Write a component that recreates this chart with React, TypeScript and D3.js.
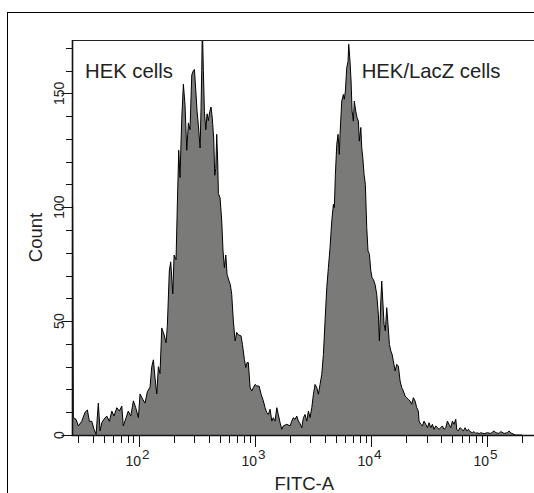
import { useEffect, useRef } from 'react';
import * as d3 from 'd3';

// FITC-A channel positions (log10 of intensity) and event counts
const fitcLog = [
  1.431, 1.437, 1.46, 1.48, 1.509, 1.538, 1.558, 1.575, 1.596, 1.615, 1.633, 1.652, 1.667, 1.682, 1.701,
  1.725, 1.747, 1.768, 1.787, 1.811, 1.833, 1.854, 1.867, 1.891, 1.91, 1.931, 1.954, 1.974, 1.997,
  2.011, 2.034, 2.054, 2.074, 2.097, 2.112, 2.126, 2.14, 2.155, 2.169, 2.183, 2.198, 2.218, 2.235, 2.246,
  2.263, 2.275, 2.293, 2.304, 2.321, 2.332, 2.344, 2.355, 2.37, 2.384, 2.398, 2.413, 2.427, 2.441,
  2.456, 2.47, 2.479, 2.491, 2.502, 2.513, 2.528, 2.536, 2.542, 2.547, 2.556, 2.565, 2.577, 2.588, 2.599,
  2.611, 2.622, 2.633, 2.645, 2.654, 2.663, 2.671, 2.68, 2.685, 2.7, 2.714, 2.725, 2.737, 2.749, 2.76,
  2.777, 2.788, 2.8, 2.814, 2.829, 2.843, 2.857, 2.88, 2.892, 2.909, 2.921, 2.932, 2.943, 2.958, 2.972,
  2.986, 3.001, 3.016, 3.035, 3.053, 3.072, 3.087, 3.102, 3.115, 3.13, 3.145, 3.158, 3.173, 3.188, 3.201,
  3.216, 3.231, 3.244, 3.274, 3.302, 3.317, 3.33, 3.345, 3.36, 3.374, 3.388, 3.403, 3.417, 3.431, 3.446,
  3.46, 3.474, 3.489, 3.503, 3.517, 3.532, 3.546, 3.56, 3.575, 3.589, 3.603, 3.618, 3.632, 3.646, 3.661,
  3.675, 3.683, 3.692, 3.704, 3.715, 3.726, 3.732, 3.747, 3.761, 3.769, 3.778, 3.79, 3.801, 3.807, 3.818,
  3.827, 3.836, 3.847, 3.855, 3.867, 3.879, 3.89, 3.898, 3.911, 3.919, 3.928, 3.939, 3.95, 3.962, 3.973,
  3.985, 3.997, 4.008, 4.019, 4.034, 4.048, 4.062, 4.071, 4.083, 4.091, 4.1, 4.111, 4.122, 4.134, 4.145,
  4.157, 4.169, 4.18, 4.191, 4.206, 4.22, 4.234, 4.249, 4.263, 4.277, 4.292, 4.306, 4.32, 4.335, 4.349,
  4.363, 4.378, 4.392, 4.406, 4.412, 4.427, 4.441, 4.455, 4.47, 4.484, 4.498, 4.513, 4.527, 4.541, 4.556,
  4.57, 4.584, 4.599, 4.613, 4.627, 4.642, 4.656, 4.67, 4.685, 4.699, 4.713, 4.728, 4.737, 4.748, 4.765,
  4.78, 4.794, 4.808, 4.823, 4.837, 4.851, 4.871, 4.885, 4.9, 4.914, 4.929, 4.943, 4.972, 5.0, 5.029,
  5.058, 5.072, 5.101, 5.115, 5.144, 5.172, 5.187, 5.201, 5.23, 5.244, 5.3,
];

const counts = [
  101, 7.6, 6.9, 4, 6, 10, 11, 6, 6, 2.5, 0.3, 14, 1.8, 5.4, 7,
  8.3, 6, 10.5, 8.3, 12, 10.5, 12.7, 4, 7.6, 10.5, 8.3, 15, 12, 7.6,
  18, 15.7, 14, 19, 21, 30, 33, 25, 18, 30, 27, 47, 44, 40.5, 48,
  72, 76, 62, 79, 77, 101, 125, 113, 139, 154, 145, 125, 137, 134,
  158, 160, 160.5, 151, 142, 136, 126, 143.7, 160, 180, 160, 142, 134, 141, 138,
  142, 144, 139, 130, 114, 117, 132, 119, 106, 104, 94, 81, 73.5, 79, 70.5,
  67.6, 66, 61.7, 50, 41.3, 45, 44, 43.5, 39.8, 33.2, 29.6, 31.8, 31.8, 20.8, 19.3,
  20.8, 22.2, 21.5, 21.5, 17.9, 15, 12, 9.8, 9, 11.3, 6.1, 7.6, 6.1, 12, 9,
  5.4, 2.5, 4, 4.7, 4, 6.1, 7.6, 6.9, 8.3, 6.1, 5, 3.2, 7.6, 9, 6.1,
  10.5, 7.6, 12, 17.9, 22.2, 20.8, 17.9, 22.2, 26.6, 35.4, 50, 64.7, 73.5, 82.2, 94,
  101.3, 99.8, 114.4, 127.6, 132, 123.2, 132, 146.6, 149.5, 147.4, 151, 161.3, 164, 171.5, 164,
  155.4, 142.2, 137.8, 146.6, 142.2, 139.3, 137.8, 129, 135, 126, 121.7, 114.4, 110, 91, 80.8,
  79.3, 72, 69, 68.3, 66, 61.7, 53, 41.3, 58.8, 67.6, 58.8, 48.6, 45.7, 55.9, 48.6,
  39.8, 36.9, 35.4, 32.5, 28.1, 31, 30.3, 23.7, 20.8, 19.3, 17.1, 16.4, 15.7, 14.9, 13.5,
  16.4, 14.9, 12, 10.5, 6.1, 4.7, 4, 6.1, 4.7, 3.2, 5.4, 3.2, 4.7, 2.5, 4,
  3.2, 2.5, 3.2, 4, 2.5, 3.2, 6.1, 4.7, 3.2, 6.1, 4.7, 6.9, 2.5, 1.8, 3.2,
  2.5, 1.8, 3.2, 1.8, 2.5, 1.5, 1, 1.5, 0.7, 1, 0.6, 1, 0.6, 1, 0.7,
  1.8, 1, 0.7, 1.5, 0.7, 1, 1.8, 0.9, 0.3, 0, 0,
];

const decadeTicks = [100, 1000, 10000, 100000];
const decadeExponents = ['2', '3', '4', '5'];
const countMajorTicks = [0, 50, 100, 150];
const sampleLabels = ['HEK cells', 'HEK/LacZ cells'];

const FONT = '"Liberation Sans", Arial, sans-serif';

const App = () => {
  const svgRef = useRef<SVGSVGElement>(null);

  useEffect(() => {
    const svg = d3.select(svgRef.current);
    svg.selectAll('*').remove();

    const left = 72.5;
    const right = 536;
    const top = 40;
    const bottom = 435;

    const x = d3.scaleLog().domain([26.9, 262144]).range([left, right]);
    const y = d3.scaleLinear().domain([0, 173.4]).range([bottom, top]);

    const data = fitcLog.map((l, i) => ({ v: Math.pow(10, l), c: counts[i] }));

    // outer frame
    svg.append('rect')
      .attr('x', 7.5).attr('y', 12.5)
      .attr('width', 700).attr('height', 700)
      .attr('fill', 'none').attr('stroke', '#000').attr('stroke-width', 1);

    svg.append('clipPath').attr('id', 'plotClip')
      .append('rect')
      .attr('x', left).attr('y', top)
      .attr('width', right - left).attr('height', bottom - top);

    const plot = svg.append('g').attr('clip-path', 'url(#plotClip)');

    plot.append('path')
      .datum(data)
      .attr('d', d3.area<any>().x(d => x(d.v)).y0(y(0)).y1(d => y(d.c)))
      .attr('fill', '#7a7a78');

    plot.append('path')
      .datum(data)
      .attr('d', d3.line<any>().x(d => x(d.v)).y(d => y(d.c)))
      .attr('fill', 'none')
      .attr('stroke', '#000')
      .attr('stroke-width', 1)
      .attr('stroke-linejoin', 'round');

    // plot box top
    svg.append('line')
      .attr('x1', left).attr('x2', 534)
      .attr('y1', top + 0.5).attr('y2', top + 0.5)
      .attr('stroke', '#222').attr('stroke-width', 1);

    // axes lines
    svg.append('line')
      .attr('x1', left).attr('x2', left)
      .attr('y1', top).attr('y2', bottom + 1)
      .attr('stroke', '#111').attr('stroke-width', 1.6);
    svg.append('line')
      .attr('x1', left - 1).attr('x2', 534)
      .attr('y1', bottom + 0.5).attr('y2', bottom + 0.5)
      .attr('stroke', '#111').attr('stroke-width', 1.6);

    // y ticks
    const yTicks = d3.range(0, 171, 10);
    yTicks.forEach(t => {
      const major = countMajorTicks.includes(t);
      svg.append('line')
        .attr('x1', major ? left - 11 : left - 6.5).attr('x2', left)
        .attr('y1', Math.round(y(t)) + 0.5).attr('y2', Math.round(y(t)) + 0.5)
        .attr('stroke', '#111').attr('stroke-width', 1);
    });
    countMajorTicks.forEach(t => {
      svg.append('text')
        .attr('transform', `translate(63.5,${y(t)}) rotate(-90)`)
        .attr('text-anchor', 'middle')
        .style('font-family', FONT)
        .style('font-size', '14px')
        .style('fill', '#222')
        .text(String(t));
    });

    // x ticks: decades plus 2..9 multiples
    const minorTicks: number[] = [];
    for (let e = 1; e <= 5; e++) {
      for (let m = 2; m <= 9; m++) {
        const v = m * Math.pow(10, e);
        if (v >= 27 && v <= 262144) minorTicks.push(v);
      }
    }
    minorTicks.forEach(v => {
      svg.append('line')
        .attr('x1', Math.round(x(v)) + 0.5).attr('x2', Math.round(x(v)) + 0.5)
        .attr('y1', bottom + 1).attr('y2', bottom + 8)
        .attr('stroke', '#111').attr('stroke-width', 1);
    });
    decadeTicks.forEach((v, i) => {
      const px = Math.round(x(v)) + 0.5;
      svg.append('line')
        .attr('x1', px).attr('x2', px)
        .attr('y1', bottom + 1).attr('y2', bottom + 12)
        .attr('stroke', '#111').attr('stroke-width', 1);
      svg.append('text')
        .attr('x', px + 1.5).attr('y', 466)
        .attr('text-anchor', 'end')
        .style('font-family', FONT)
        .style('font-size', '14px')
        .style('fill', '#222')
        .text('10');
      svg.append('text')
        .attr('x', px + 2.5).attr('y', 458.5)
        .attr('text-anchor', 'start')
        .style('font-family', FONT)
        .style('font-size', '13.5px')
        .style('fill', '#222')
        .text(decadeExponents[i]);
    });

    // axis titles
    svg.append('text')
      .attr('x', (left + right) / 2).attr('y', 490)
      .attr('text-anchor', 'middle')
      .style('font-family', FONT)
      .style('font-size', '18.5px')
      .style('fill', '#222')
      .text('FITC-A');
    svg.append('text')
      .attr('transform', `translate(42,${(top + bottom) / 2}) rotate(-90)`)
      .attr('text-anchor', 'middle')
      .style('font-family', FONT)
      .style('font-size', '18.5px')
      .style('fill', '#222')
      .text('Count');

    // sample labels
    const labelX = [85, 361.7];
    sampleLabels.forEach((s, i) => {
      svg.append('text')
        .attr('x', labelX[i]).attr('y', 78)
        .style('font-family', FONT)
        .style('font-size', '20.3px')
        .style('fill', '#222')
        .text(s);
    });
  }, []);

  return (
    <svg
      ref={svgRef}
      width={534}
      height={493}
      style={{ position: 'absolute', left: 0, top: 0, background: '#fff' }}
    />
  );
};

export default App;
